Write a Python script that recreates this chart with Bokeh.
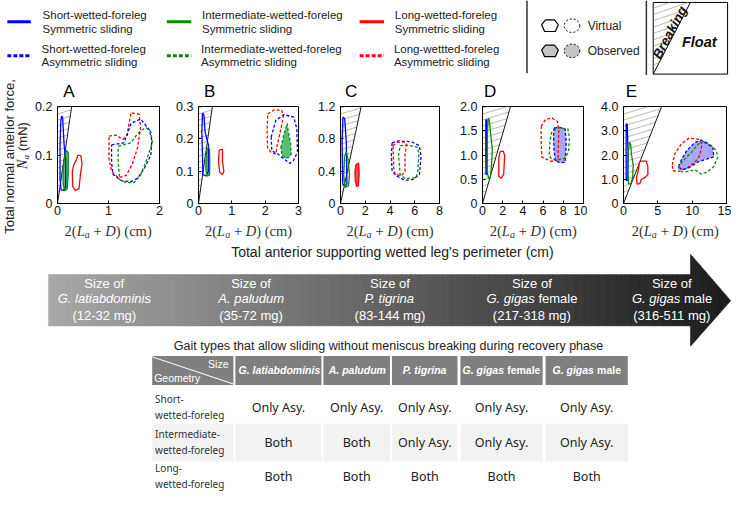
import numpy as np
from bokeh.plotting import figure
from bokeh.models import Range1d, FixedTicker
from bokeh.layouts import column, row
from bokeh.core.properties import value
from bokeh.embed import file_html
from bokeh.resources import INLINE

W, H = 731, 491
RW, RH = 747.0, 507.0
SX, SY = W / RW, H / RH
SANS, SERIF, KFONT = "Liberation Sans", "Liberation Serif", "Noto Sans"

# ---------------------------------------------------------------- data
PANELS = ["A", "B", "C", "D", "E"]
X_MAX = [2, 3, 8, 10, 15]
Y_MAX = [0.2, 0.3, 1.2, 2.0, 4.0]
X_TICKS = [[0, 1, 2], [0, 1, 2, 3], [0, 2, 4, 6, 8], [0, 2, 4, 6, 8, 10], [0, 5, 10, 15]]
Y_TICKS = [[0, 0.1, 0.2], [0, 0.1, 0.2, 0.3], [0, 0.4, 0.8, 1.2],
           [0, 0.5, 1.0, 1.5, 2.0], [0, 1, 2, 3, 4]]
Y_TICK_LABELS = [["0", "0.1", "0.2"], ["0", "0.1", "0.2", "0.3"], ["0", "0.4", "0.8", "1.2"],
                 ["0", "0.5", "1.0", "1.5", "2.0"], ["0", "1.0", "2.0", "3.0", "4.0"]]
SIGMA = 0.72  # breaking line slope (mN per cm of perimeter)

# SS short/sym, SA short/asym, IS inter/sym, IA inter/asym, LS long/sym, LA long/asym
A_SS = [(0.08, 0.18), (0.1, 0.178), (0.13, 0.12), (0.16, 0.09), (0.16, 0.035), (0.12, 0.027),
        (0.07, 0.028), (0.05, 0.05), (0.05, 0.12), (0.065, 0.17)]
A_IS = [(0.17, 0.11), (0.21, 0.105), (0.21, 0.06), (0.19, 0.03), (0.14, 0.026), (0.11, 0.04),
        (0.11, 0.07), (0.13, 0.09)]
A_LS = [(0.4, 0.1), (0.46, 0.098), (0.48, 0.08), (0.45, 0.06), (0.42, 0.03), (0.35, 0.027),
        (0.3, 0.035), (0.29, 0.065), (0.32, 0.08), (0.37, 0.09)]
A_SA = [(1.06, 0.121), (1.3, 0.125), (1.36, 0.14), (1.44, 0.165), (1.63, 0.174), (1.8, 0.152),
        (1.85, 0.13), (1.83, 0.1), (1.7, 0.072), (1.57, 0.052), (1.44, 0.045), (1.25, 0.047),
        (1.09, 0.06), (1.06, 0.085)]
A_LA = [(1.01, 0.139), (1.15, 0.141), (1.28, 0.132), (1.36, 0.14), (1.44, 0.187), (1.6, 0.184),
        (1.63, 0.157), (1.57, 0.115), (1.47, 0.082), (1.35, 0.058), (1.19, 0.053), (1.06, 0.066),
        (1.01, 0.092)]
A_IA = [(1.19, 0.118), (1.44, 0.125), (1.57, 0.144), (1.73, 0.157), (1.83, 0.148), (1.86, 0.125),
        (1.73, 0.085), (1.63, 0.059), (1.5, 0.043), (1.35, 0.043), (1.22, 0.049), (1.19, 0.085)]

B_SS = [(0.12, 0.28), (0.16, 0.275), (0.2, 0.22), (0.3, 0.18), (0.3, 0.1), (0.22, 0.085),
        (0.13, 0.09), (0.12, 0.15), (0.1, 0.22)]
B_IS = [(0.27, 0.172), (0.33, 0.17), (0.34, 0.12), (0.33, 0.088), (0.25, 0.085), (0.22, 0.11),
        (0.23, 0.15)]
B_LS = [(0.62, 0.165), (0.72, 0.168), (0.72, 0.13), (0.76, 0.1), (0.72, 0.09), (0.64, 0.095),
        (0.6, 0.13)]
B_LA = [(2.08, 0.277), (2.27, 0.29), (2.5, 0.288), (2.55, 0.27), (2.46, 0.225), (2.37, 0.185),
        (2.32, 0.153), (2.18, 0.158), (2.07, 0.172), (2.06, 0.235)]
B_SA = [(2.18, 0.205), (2.32, 0.257), (2.56, 0.275), (2.86, 0.267), (2.95, 0.23), (2.97, 0.16),
        (2.85, 0.133), (2.74, 0.124), (2.56, 0.138), (2.37, 0.154), (2.2, 0.163)]
B_IA = [(2.47, 0.172), (2.55, 0.208), (2.66, 0.248), (2.69, 0.224), (2.76, 0.188), (2.78, 0.153),
        (2.71, 0.143), (2.61, 0.14), (2.51, 0.148)]

C_SS = [(0.2, 1.07), (0.34, 1.05), (0.47, 0.75), (0.52, 0.24), (0.34, 0.22), (0.18, 0.24),
        (0.13, 0.75)]
C_IS = [(0.47, 0.64), (0.6, 0.55), (0.73, 0.36), (0.65, 0.22), (0.36, 0.2), (0.26, 0.35),
        (0.33, 0.58)]
C_LS = [(1.25, 0.48), (1.46, 0.5), (1.51, 0.36), (1.43, 0.22), (1.3, 0.21), (1.2, 0.28),
        (1.17, 0.4)]
C_SA = [(4.17, 0.75), (4.69, 0.775), (5.73, 0.764), (6.38, 0.715), (6.51, 0.576), (6.38, 0.358),
        (5.86, 0.298), (5.21, 0.286), (4.56, 0.338), (4.17, 0.397), (4.11, 0.6)]
C_LA = [(4.25, 0.715), (4.56, 0.755), (5.08, 0.764), (5.34, 0.735), (5.21, 0.596), (5.21, 0.397),
        (4.95, 0.346), (4.43, 0.358), (4.3, 0.437)]
C_IA = [(4.82, 0.715), (5.34, 0.723), (5.94, 0.707), (6.25, 0.695), (6.33, 0.596), (6.25, 0.397),
        (6.12, 0.318), (5.21, 0.31), (4.82, 0.358), (4.69, 0.596)]

D_SS = [(0.33, 1.72), (0.42, 1.73), (0.45, 1.2), (0.44, 0.6), (0.34, 0.6), (0.32, 1.2)]
D_IS = [(0.55, 1.74), (0.65, 1.75), (0.77, 1.52), (0.97, 1.13), (0.9, 0.8), (0.77, 0.52),
        (0.61, 0.52), (0.45, 0.66), (0.45, 1.25), (0.52, 1.6)]
D_LS = [(1.74, 1.07), (2.06, 1.08), (2.19, 0.99), (2.1, 0.6), (1.84, 0.52), (1.61, 0.56),
        (1.61, 0.93)]
D_LA = [(5.81, 1.59), (6.26, 1.74), (6.9, 1.76), (7.42, 1.69), (7.55, 1.52), (7.48, 0.9),
        (6.84, 0.87), (6.35, 0.91), (5.87, 0.96), (5.81, 1.26)]
D_SA = [(7.1, 1.56), (7.65, 1.57), (8.19, 1.53), (8.29, 1.25), (8.19, 0.85), (7.81, 0.84),
        (7.23, 0.87), (7.1, 1.06), (7.03, 1.39)]
D_IA = [(7.0, 1.5), (7.48, 1.56), (8.45, 1.54), (8.6, 1.36), (8.52, 1.06), (8.13, 0.93),
        (7.48, 0.9), (6.84, 0.91), (6.61, 0.99), (6.68, 1.29), (6.84, 1.46)]

E_SS = [(0.4, 3.3), (0.55, 3.25), (0.66, 2.2), (0.62, 0.95), (0.4, 0.95), (0.38, 2.2)]
E_IS = [(0.85, 2.52), (1.04, 2.45), (1.18, 1.99), (1.42, 1.59), (1.33, 1.06), (1.04, 0.8),
        (0.71, 0.82), (0.62, 1.33), (0.66, 1.99)]
E_LS = [(2.37, 1.75), (3.31, 1.75), (3.55, 1.52), (3.55, 1.19), (3.08, 1.06), (2.6, 1.0),
        (2.37, 0.82), (1.99, 0.8), (1.89, 1.06), (2.13, 1.33), (2.27, 1.59)]
E_LA = [(7.1, 1.59), (7.48, 2.05), (8.43, 2.45), (9.56, 2.7), (10.88, 2.65), (11.45, 2.45),
        (11.12, 1.99), (10.41, 1.7), (9.23, 1.46), (8.05, 1.32), (7.19, 1.35)]
E_SA = [(8.0, 1.52), (8.52, 1.85), (9.23, 2.19), (10.41, 2.52), (11.36, 2.62), (12.21, 2.45),
        (13.01, 2.32), (13.15, 1.92), (12.3, 1.85), (10.88, 1.72), (9.46, 1.46), (8.52, 1.39)]
E_IA = [(7.95, 1.46), (8.52, 1.72), (9.94, 2.12), (10.88, 2.45), (11.83, 2.58), (12.78, 2.39),
        (13.49, 2.19), (13.73, 1.92), (13.15, 1.52), (12.3, 1.32), (11.36, 1.21), (10.41, 1.39),
        (9.46, 1.32), (8.52, 1.3)]

PANEL_SHAPES = [
    [("SS", A_SS), ("IS", A_IS), ("LS", A_LS), ("LA", A_LA), ("SA", A_SA), ("IA", A_IA)],
    [("SS", B_SS), ("IS", B_IS), ("LS", B_LS), ("LA", B_LA), ("SA", B_SA), ("IA", B_IA)],
    [("SS", C_SS), ("IS", C_IS), ("LS", C_LS), ("SA", C_SA), ("LA", C_LA), ("IA", C_IA)],
    [("SS", D_SS), ("IS", D_IS), ("LS", D_LS), ("LA", D_LA), ("SA", D_SA), ("IA", D_IA)],
    [("SS", E_SS), ("IS", E_IS), ("LS", E_LS), ("LA", E_LA), ("SA", E_SA), ("IA", E_IA)],
]
OBSERVED = [["IS"], ["IS", "IA"], ["LS"], ["SA"], ["SA"]]

LEGEND_SYM = ["Short-wetted-foreleg", "Intermediate-wetted-foreleg", "Long-wetted-foreleg"]
LEGEND_ASYM = ["Short-wetted-foreleg", "Intermediate-wetted-foreleg", "Long-wettted-foreleg"]

SPECIES_ITALIC = ["G. latiabdominis", "A. paludum", "P. tigrina", "G. gigas", "G. gigas"]
SPECIES_SUFFIX = ["", "", "", "female", "male"]
SPECIES_MASS = ["(12-32 mg)", "(35-72 mg)", "(83-144 mg)", "(217-318 mg)", "(316-511 mg)"]

ROW_LABELS = [["Short-", "wetted-foreleg"], ["Intermediate-", "wetted-foreleg"],
              ["Long-", "wetted-foreleg"]]
ROW_SHORT = ["Only Asy.", "Only Asy.", "Only Asy.", "Only Asy.", "Only Asy."]
ROW_INTER = ["Both", "Both", "Only Asy.", "Only Asy.", "Only Asy."]
ROW_LONG = ["Both", "Both", "Both", "Both", "Both"]

# ---------------------------------------------------------------- styles
COL = {"S": "#0000ff", "I": "#0a8a0a", "L": "#ff0000"}
FILL = {"S": "#9d9df5", "I": "#46b865", "L": "#ff3a3a"}
DASH = "3 2"

AW = {" ": .278, "(": .333, ")": .333, "-": .333, ".": .278, ",": .278, "'": .191,
      "A": .667, "D": .722, "G": .778, "P": .667, "S": .667, "T": .611, "N": .722}
def tw(s, size, bold=False):
    w = 0.0
    for ch in s:
        if ch in AW:
            w += AW[ch]
        elif ch.isdigit():
            w += .556
        elif ch in "ijl":
            w += .222
        elif ch in "ftr":
            w += .3
        elif ch in "mw":
            w += .8
        elif ch in "csvyzk":
            w += .5
        else:
            w += .556
    return w * size * (1.06 if bold else 1.0)

# ---------------------------------------------------------------- layout geometry (R = reference px)
FRAME_L = [58, 202, 347, 493, 637]
FRAME_R = [162, 305, 449, 596, 742]
TOP_H = round(78 * SY)
PAN_T = round(104 * SY)
FR_T = round(109 * SY)
FR_B = round(210 * SY)
PAN_B = round(229 * SY)
MID_B = round(248 * SY)
LW = round(33 * SX)


def canvas(w, h, x0, x1, y0, y1):
    p = figure(width=w, height=h, x_range=Range1d(x0, x1), y_range=Range1d(y1, y0),
               output_backend="svg", toolbar_location=None, x_axis_type=None,
               y_axis_type=None, min_border=0)
    p.grid.visible = False
    p.outline_line_color = None
    return p


def txt(p, xs, ys, texts, size, color="#222222", font=SANS, style="normal",
        align="left", baseline="middle", angle=0.0):
    p.text(x=xs, y=ys, text=texts, text_font=value(font), text_font_size=value(f"{size}px"),
           text_font_style=style, text_color=color, text_align=align,
           text_baseline=baseline, angle=angle)


# ---------------------------------------------------------------- top canvas (legend)
top = canvas(W, TOP_H, 0, RW, 0, TOP_H / SY)
LX0, LX1, LTX = [7, 170, 367], [31, 195, 392], [43, 206, 403]
for k, key in enumerate("SIL"):
    top.line([LX0[k], LX1[k]], [22, 22], line_color=COL[key], line_width=3)
    top.line([LX0[k], LX1[k]], [57, 57], line_color=COL[key], line_width=3, line_dash="4 2")
txt(top, LTX, [15] * 3, LEGEND_SYM, 11.5)
txt(top, LTX, [29] * 3, ["Symmetric sliding"] * 3, 11.5)
txt(top, [x - 1 for x in LTX], [50] * 3, LEGEND_ASYM, 11.5)
txt(top, [x - 1 for x in LTX], [64] * 3, ["Asymmetric sliding"] * 3, 11.5)

top.line([538, 538], [0, 75], line_color="#333333", line_width=1.5)
top.line([660, 660], [0, 77], line_color="#333333", line_width=1.5)

HEX_DX = [-8, -4, 5, 9, 6, -5]
HEX_DY = [-1, -6, -6, -1, 6, 6]
top.patch([561 + d for d in HEX_DX], [26 + d for d in HEX_DY], fill_color=None,
          line_color="black", line_width=1.2)
top.patch([561 + d for d in HEX_DX], [52 + d for d in HEX_DY], fill_color="#c4c4c4",
          line_color="black", line_width=1.2)
top.ellipse(x=[584, 584], y=[26, 52], width=16, height=14, fill_color=[None, "#c4c4c4"],
            line_color="black", line_width=1, line_dash="2 2")
txt(top, [600, 600], [26, 52], ["Virtual", "Observed"], 12)

BX0, BX1, BY0, BY1 = 667, 743, 2, 76
top.quad(left=BX0, right=BX1, top=BY0, bottom=BY1, fill_color=None, line_color="black",
         line_width=1)
DX_TOP = 705
top.line([BX0, DX_TOP], [BY1, BY0], line_color="black", line_width=1)
hx0, hy0, hx1, hy1 = [], [], [], []
kk = (DX_TOP - BX0) / (BY1 - BY0)
for yv in np.arange(BY0 + 6, BY1, 6.5):
    s = -0.35
    xx = BX0
    for _ in range(40):
        yy = yv + s * (xx - BX0)
        xx = BX0 + (BY1 - yy) * kk
    yy = yv + s * (xx - BX0)
    if yy < BY0:
        yy = BY0
        xx = BX0 + (BY0 - yv) / s
    hx0.append(BX0); hy0.append(yv); hx1.append(xx); hy1.append(yy)
top.segment(hx0, hy0, hx1, hy1, line_color="#888888", line_width=0.6)
txt(top, [684], [33], ["Breaking"], 13.5, color="#111111", style="bold italic",
    align="center", angle=1.08)
txt(top, [714], [43], ["Float"], 14.5, color="#111111", style="bold italic", align="center")

# ---------------------------------------------------------------- left canvas (y label)
left = canvas(LW, MID_B - TOP_H, 0, LW / SX, TOP_H / SY, MID_B / SY)
txt(left, [9], [161], ["Total normal anterior force,"], 13, align="center", angle=np.pi / 2)
NY = 174
txt(left, [22], [NY], ["N"], 14, font=SERIF, style="italic", angle=np.pi / 2)
txt(left, [22 + 3.5 / SX], [NY - 9.5 / SY], ["a"], 9, font=SERIF, style="italic",
    angle=np.pi / 2)
txt(left, [22], [NY - 18 / SY], ["(mN)"], 13, angle=np.pi / 2)

# ---------------------------------------------------------------- letters canvas
letters = canvas(W - LW, PAN_T - TOP_H, LW / SX, RW, TOP_H / SY, PAN_T / SY)
LETTER_OFFS = [6, 6, 5, 1, 2]
txt(letters, [FRAME_L[i] + LETTER_OFFS[i] for i in range(5)], [94] * 5, PANELS, 17,
    color="black")

# ---------------------------------------------------------------- x label canvas
xlab = canvas(W - LW, MID_B - PAN_B, LW / SX, RW, PAN_B / SY, MID_B / SY)
PIECES = [("2(", "normal", 14.5, 0, 12.1), ("L", "italic", 14.5, 0, 8.1),
          ("a", "italic", 10, 3.5, 8.8), ("+", "normal", 14.5, 0, 11.8),
          ("D", "italic", 14.5, 0, 10.5), (")", "normal", 14.5, 0, 8.5),
          ("(cm)", "normal", 14.5, 0, 27.4)]
PTOT = sum(q[4] for q in PIECES)
for i in range(5):
    xx = (FRAME_L[i] + FRAME_R[i]) / 2 - PTOT / SX / 2
    for t, st, fs, dy, adv in PIECES:
        txt(xlab, [xx], [238.5 + dy / SY], [t], fs, color="#333333", font=SERIF, style=st)
        xx += adv / SX


# ---------------------------------------------------------------- panels
def make_panel(i, start, end):
    fl, fr = round(FRAME_L[i] * SX), round(FRAME_R[i] * SX)
    bl, fw, br = fl - start, fr - fl, end - fr
    FH = FR_B - FR_T
    xm, ym = X_MAX[i], Y_MAX[i]
    p = figure(width=end - start, height=PAN_B - PAN_T, x_range=Range1d(0, xm),
               y_range=Range1d(0, ym), output_backend="svg", toolbar_location=None,
               min_border_left=bl, min_border_right=br, min_border_top=FR_T - PAN_T,
               min_border_bottom=PAN_B - FR_B)
    p.grid.visible = False
    p.outline_line_color = "black"
    p.outline_line_width = 1
    for ax in (p.xaxis[0], p.yaxis[0]):
        ax.major_tick_in = 3
        ax.major_tick_out = 0
        ax.minor_tick_in = 0
        ax.minor_tick_out = 0
        ax.axis_line_color = "black"
        ax.major_tick_line_color = "black"
        ax.major_label_text_font = SANS
        ax.major_label_text_font_size = "12.5px"
        ax.major_label_text_color = "#111111"
    p.xaxis.ticker = FixedTicker(ticks=X_TICKS[i])
    p.yaxis.ticker = FixedTicker(ticks=Y_TICKS[i])
    p.yaxis.major_label_overrides = {t: s for t, s in zip(Y_TICKS[i], Y_TICK_LABELS[i])}
    p.xaxis.major_label_standoff = 2
    p.yaxis.major_label_standoff = 5

    K = SIGMA * xm / ym * FH / fw
    s = 0.3
    x0s, y0s, x1s, y1s = [], [], [], []
    for v0 in np.arange(5.5, FH, 6.0):
        u = v0 / (K - s)
        v = K * u
        if v > FH:
            u = min((FH - v0) / s, FH / K)
            v = v0 + s * u
        x0s.append(0); y0s.append(v0 / FH * ym)
        x1s.append(u / fw * xm); y1s.append(min(v, FH) / FH * ym)
    p.segment(x0s, y0s, x1s, y1s, line_color="#8a8a8a", line_width=0.6)
    p.line([0, ym / SIGMA], [0, ym], line_color="black", line_width=0.9)

    shapes = PANEL_SHAPES[i]
    for kind, pts in shapes:
        if kind in OBSERVED[i]:
            xs = [q[0] for q in pts] + [pts[0][0]]
            ys = [q[1] for q in pts] + [pts[0][1]]
            p.patch(xs, ys, fill_color=FILL[kind[0]], fill_alpha=0.9, line_color=None)
    for kind, pts in shapes:
        xs = [q[0] for q in pts] + [pts[0][0]]
        ys = [q[1] for q in pts] + [pts[0][1]]
        p.line(xs, ys, line_color=COL[kind[0]], line_width=1.3,
               line_dash="solid" if kind[1] == "S" else DASH)
    return p


bounds = [LW]
for i in range(4):
    bounds.append(round(FRAME_R[i] * SX) + 4)
bounds.append(W)
panels = [make_panel(i, bounds[i], bounds[i + 1]) for i in range(5)]

# ---------------------------------------------------------------- bottom canvas
bot = canvas(W, H - MID_B, 0, RW, MID_B / SY, RH)
txt(bot, [400.5], [260], ["Total anterior supporting wetted leg's perimeter (cm)"], 14,
    align="center")

AX0, AXH, AXT = 49, 705, 746
BODY_T, BODY_B = 283, 336
HEAD_T, HEAD_B, TIP_Y = 262, 357, 310
def shade(x):
    g = int(round(168 - 143 * (x - AX0) / (AXT - AX0)))
    return "#%02x%02x%02x" % (g, g, g)
pxs, pys, pcs = [], [], []
be = np.linspace(AX0, AXH, 141)
for a, b in zip(be[:-1], be[1:]):
    pxs.append([a, b + 0.4, b + 0.4, a]); pys.append([BODY_T, BODY_T, BODY_B, BODY_B])
    pcs.append(shade((a + b) / 2))
hx = np.linspace(AXH, AXT, 21)
for a, b in zip(hx[:-1], hx[1:]):
    fa, fb = (a - AXH) / (AXT - AXH), (b - AXH) / (AXT - AXH)
    ta, tb = HEAD_T + (TIP_Y - HEAD_T) * fa, HEAD_T + (TIP_Y - HEAD_T) * fb
    ba, bb = HEAD_B + (TIP_Y - HEAD_B) * fa, HEAD_B + (TIP_Y - HEAD_B) * fb
    pxs.append([a, b + 0.3, b + 0.3, a]); pys.append([ta, tb, bb, ba])
    pcs.append(shade((a + b) / 2))
bot.patches(pxs, pys, fill_color=pcs, line_color=pcs, line_width=0.5)

SP_X = [106, 256, 398, 543, 686]
txt(bot, SP_X, [292] * 5, ["Size of"] * 5, 13, color="white", align="center")
txt(bot, SP_X, [325] * 5, SPECIES_MASS, 13, color="white", align="center")
for k in range(5):
    wi = tw(SPECIES_ITALIC[k], 13) / SX
    ws = (tw(" " + SPECIES_SUFFIX[k], 13) / SX) if SPECIES_SUFFIX[k] else 0
    x0 = SP_X[k] - (wi + ws) / 2
    txt(bot, [x0], [308], [SPECIES_ITALIC[k]], 13, color="white", style="italic")
    if SPECIES_SUFFIX[k]:
        txt(bot, [x0 + wi + tw(" ", 13) / SX], [308], [SPECIES_SUFFIX[k]], 13, color="white")

txt(bot, [396.5], [357],
    ["Gait types that allow sliding without meniscus breaking during recovery phase"], 12.5,
    align="center")

COLS = [(155, 238), (240, 328), (330, 398), (400, 467), (470, 554), (557, 641)]
HT, HB = 367, 397
bot.quad(left=[c[0] for c in COLS], right=[c[1] for c in COLS], top=[HT] * 6, bottom=[HB] * 6,
         fill_color="#7f7f7f", line_color=None)
bot.quad(left=[c[0] for c in COLS], right=[c[1] for c in COLS], top=[437] * 6,
         bottom=[476] * 6, fill_color="#f2f2f2", line_color=None)
bot.line([COLS[0][0], COLS[0][1]], [HT + 1, HB - 1], line_color="white", line_width=1)
txt(bot, [233], [375], ["Size"], 10.5, color="white", align="right")
txt(bot, [157], [390], ["Geometry"], 10.5, color="white")
for k in range(5):
    cx = (COLS[k + 1][0] + COLS[k + 1][1]) / 2
    wi = tw(SPECIES_ITALIC[k], 10.5, True) / SX
    ws = (tw(" " + SPECIES_SUFFIX[k], 10.5, True) / SX) if SPECIES_SUFFIX[k] else 0
    x0 = cx - (wi + ws) / 2
    txt(bot, [x0], [382], [SPECIES_ITALIC[k]], 10.5, color="white", style="bold italic")
    if SPECIES_SUFFIX[k]:
        txt(bot, [x0 + wi + tw(" ", 10.5, True) / SX], [382], [SPECIES_SUFFIX[k]], 10.5,
            color="white", style="bold")

ROW_Y = [420, 456, 491]
for r, vals in enumerate([ROW_SHORT, ROW_INTER, ROW_LONG]):
    txt(bot, [158, 158], [ROW_Y[r] - 8, ROW_Y[r] + 8], ROW_LABELS[r], 10, color="#333333",
        font=KFONT)
    cxs = [(c[0] + c[1]) / 2 for c in COLS[1:]]
    txt(bot, cxs, [ROW_Y[r]] * 5, vals, 12.5, color="#222222", font=KFONT, align="center")

middle = row(left, column(letters, row(*panels, spacing=0), xlab, spacing=0), spacing=0)
layout = column(top, middle, bot, spacing=0)
open("out.html", "w").write(file_html(layout, INLINE))
